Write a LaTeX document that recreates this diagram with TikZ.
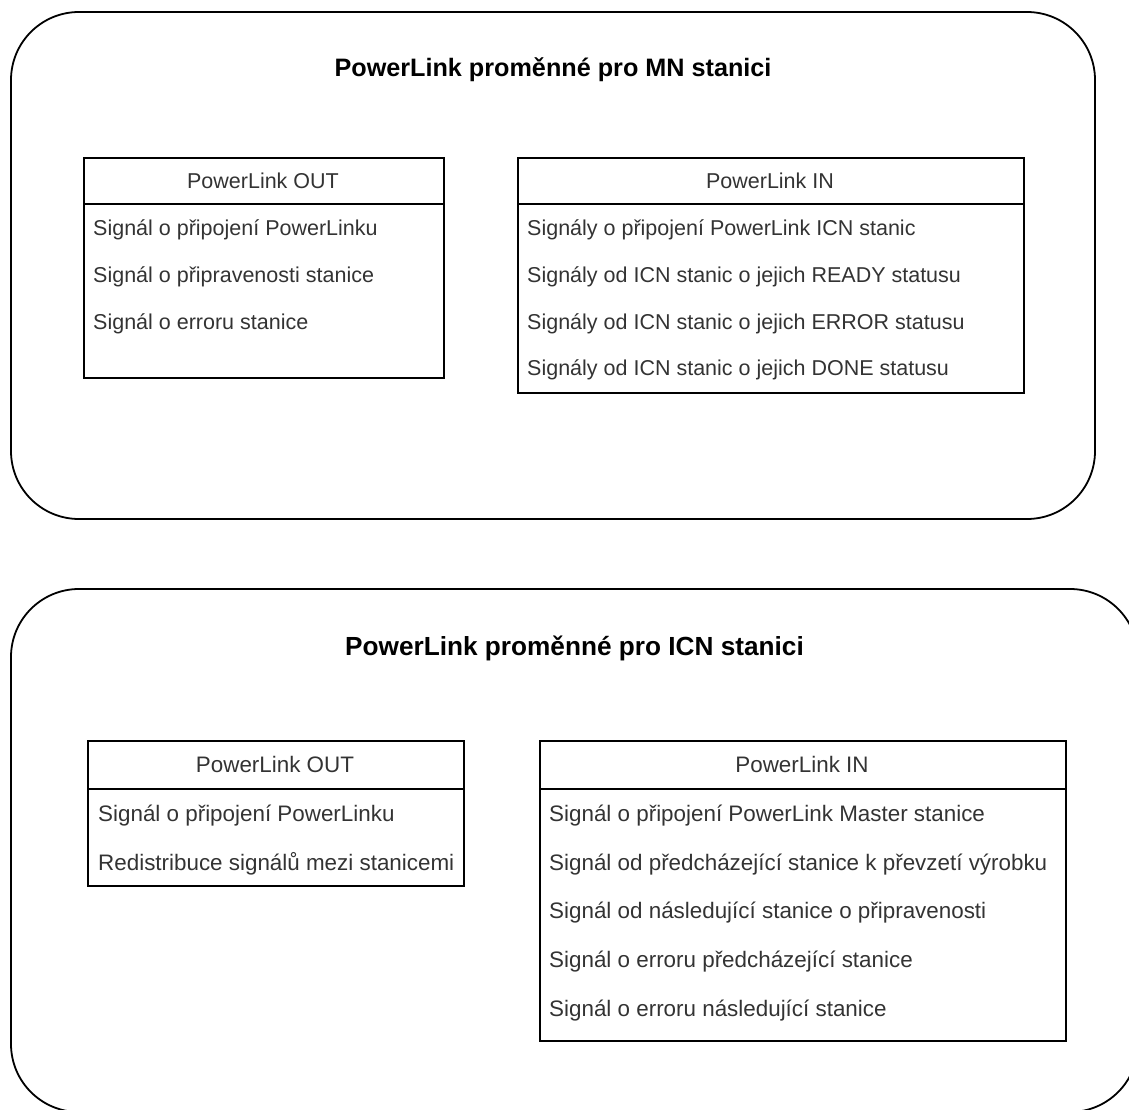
\documentclass[tikz,border=0pt]{standalone}
\usepackage{fontspec}
\setmainfont{Liberation Sans}
\definecolor{bodytext}{HTML}{333333}
\begin{document}
\begin{tikzpicture}[x=1pt,y=-1pt,
  frame/.style={draw=black, line width=1.8pt, rounded corners=68pt},
  listbox/.style={draw=black, line width=1.8pt, rectangle, anchor=north west, inner sep=0pt},
  sep/.style={draw=black, line width=1.8pt},
  titleA/.style={font=\fontsize{25.2}{30}\selectfont\bfseries, text=black, inner sep=0pt, anchor=base},
  titleB/.style={font=\fontsize{26.2}{31}\selectfont\bfseries, text=black, inner sep=0pt, anchor=base},
  headA/.style={font=\fontsize{21.5}{26}\selectfont, text=bodytext, inner sep=0pt, anchor=base},
  rowA/.style={font=\fontsize{21.5}{26}\selectfont, text=bodytext, inner sep=0pt, anchor=base west},
  headB/.style={font=\fontsize{22.4}{27}\selectfont, text=bodytext, inner sep=0pt, anchor=base},
  rowB/.style={font=\fontsize{22.4}{27}\selectfont, text=bodytext, inner sep=0pt, anchor=base west}
]
\useasboundingbox (0,0) rectangle (1129,1110);
\clip (0,0) rectangle (1129,1110);

% ---------- MN station ----------
\draw[frame] (11,12) rectangle (1095,519);
\node[titleA] (mntitle) at (553,77) {PowerLink proměnné pro MN stanici};

% MN: outputs
\node[listbox, minimum width=360pt, minimum height=220pt] (mnout) at (83,157) {};
\draw[sep] ([yshift=-46.8pt]mnout.north west) -- ([yshift=-46.8pt]mnout.north east);
\node[headA] (mnouth) at (263,188.5) {PowerLink OUT};
\node[rowA] (mnout1) at (93,235.4) {Signál o připojení PowerLinku};
\node[rowA] (mnout2) at (93,282.2) {Signál o připravenosti stanice};
\node[rowA] (mnout3) at (93,329.0) {Signál o erroru stanice};

% MN: inputs
\node[listbox, minimum width=506pt, minimum height=235pt] (mnin) at (517,157) {};
\draw[sep] ([yshift=-46.8pt]mnin.north west) -- ([yshift=-46.8pt]mnin.north east);
\node[headA] (mninh) at (770,188.5) {PowerLink IN};
\node[rowA] (mnin1) at (527,235.4) {Signály o připojení PowerLink ICN stanic};
\node[rowA] (mnin2) at (527,282.2) {Signály od ICN stanic o jejich READY statusu};
\node[rowA] (mnin3) at (527,329.0) {Signály od ICN stanic o jejich ERROR statusu};
\node[rowA] (mnin4) at (527,375.8) {Signály od ICN stanic o jejich DONE statusu};

% ---------- ICN station ----------
\draw[frame] (11,589) rectangle (1138,1112);
\node[titleB] (icntitle) at (574.5,655) {PowerLink proměnné pro ICN stanici};

% ICN: outputs
\node[listbox, minimum width=376pt, minimum height=145pt] (icnout) at (87,740) {};
\draw[sep] ([yshift=-48.7pt]icnout.north west) -- ([yshift=-48.7pt]icnout.north east);
\node[headB] (icnouth) at (275,772.6) {PowerLink OUT};
\node[rowB] (icnout1) at (98,821.3) {Signál o připojení PowerLinku};
\node[rowB] (icnout2) at (98,870.0) {Redistribuce signálů mezi stanicemi};

% ICN: inputs
\node[listbox, minimum width=526pt, minimum height=300pt] (icnin) at (539,740) {};
\draw[sep] ([yshift=-48.7pt]icnin.north west) -- ([yshift=-48.7pt]icnin.north east);
\node[headB] (icninh) at (802,772.6) {PowerLink IN};
\node[rowB] (icnin1) at (549,821.3) {Signál o připojení PowerLink Master stanice};
\node[rowB] (icnin2) at (549,870.0) {Signál od předcházející stanice k převzetí výrobku};
\node[rowB] (icnin3) at (549,918.7) {Signál od následující stanice o připravenosti};
\node[rowB] (icnin4) at (549,967.4) {Signál o erroru předcházející stanice};
\node[rowB] (icnin5) at (549,1016.1) {Signál o erroru následující stanice};
\end{tikzpicture}
\end{document}
